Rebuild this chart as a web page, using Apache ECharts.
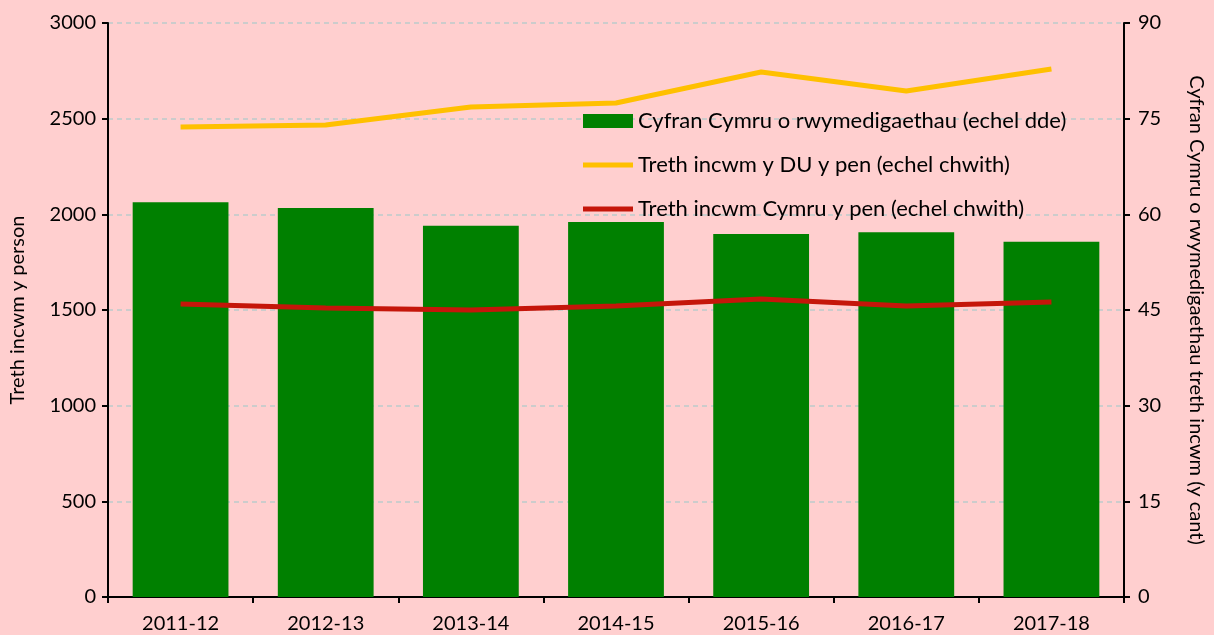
<!DOCTYPE html>
<html>
<head>
<meta charset="utf-8">
<script src="https://cdn.jsdelivr.net/npm/echarts@6/dist/echarts.min.js"></script>
<style>
  html, body { margin: 0; padding: 0; background: #ffcfcf; }
  #chart { width: 1214px; height: 635px; }
</style>
</head>
<body>
<div id="chart"></div>
<script>
// blynyddoedd
const years = ['2011-12', '2012-13', '2013-14', '2014-15', '2015-16', '2016-17', '2017-18']
// Cyfran Cymru o rwymedigaethau (y cant, echel dde)
const walesShare = [61.9, 61.0, 58.2, 58.8, 56.9, 57.2, 55.7]
// Treth incwm y DU y pen
const ukPerHead = [2456, 2467, 2561, 2582, 2744, 2645, 2760]
// Treth incwm Cymru y pen
const walesPerHead = [1531, 1510, 1500, 1521, 1557, 1521, 1542]

const font = 'Lato'
const txt = '#000'
const lineIcon = 'path://M0,0L52,0L52,5L0,5Z'

const chart = echarts.init(document.getElementById('chart'))
chart.setOption({
  backgroundColor: '#ffcfcf',
  textStyle: { fontFamily: font },
  animation: false,
  grid: { left: 103, right: 85, top: 23, bottom: 38 },
  legend: {
    orient: 'vertical',
    left: 578,
    top: 105,
    itemWidth: 50,
    itemHeight: 14,
    itemGap: 22,
    textStyle: { fontFamily: font, fontSize: 22, color: txt },
    data: [
      { name: 'Cyfran Cymru o rwymedigaethau (echel dde)', icon: 'rect' },
      { name: 'Treth incwm y DU y pen (echel chwith)', icon: lineIcon },
      { name: 'Treth incwm Cymru y pen (echel chwith)', icon: lineIcon }
    ]
  },
  xAxis: {
    type: 'category',
    data: years,
    axisLine: { lineStyle: { color: '#000', width: 2 } },
    axisTick: { show: true, length: 6, lineStyle: { color: '#000', width: 2 } },
    axisLabel: { fontFamily: font, fontSize: 20, color: txt, margin: 17 }
  },
  yAxis: [
    {
      type: 'value',
      min: 0, max: 3000, interval: 500,
      name: 'Treth incwm y person',
      nameLocation: 'middle',
      nameGap: 80,
      nameTextStyle: { fontFamily: font, fontSize: 20, color: txt },
      axisLine: { show: true, lineStyle: { color: '#000', width: 2 } },
      axisTick: { show: true, length: 6, lineStyle: { color: '#000', width: 2 } },
      axisLabel: { fontFamily: font, fontSize: 20, color: txt, margin: 12, formatter: v => String(v) },
      splitLine: { lineStyle: { color: '#cccccc', type: [5, 4], width: 2 } }
    },
    {
      type: 'value',
      min: 0, max: 90, interval: 15,
      position: 'right',
      name: 'Cyfran Cymru o rwymedigaethau treth incwm (y cant)',
      nameLocation: 'middle',
      nameRotate: -90,
      nameGap: 62,
      nameTextStyle: { fontFamily: font, fontSize: 20, color: txt },
      axisLine: { show: true, lineStyle: { color: '#000', width: 2 } },
      axisTick: { show: true, length: 6, lineStyle: { color: '#000', width: 2 } },
      axisLabel: { fontFamily: font, fontSize: 20, color: txt, margin: 14 },
      splitLine: { show: false }
    }
  ],
  series: [
    {
      name: 'Cyfran Cymru o rwymedigaethau (echel dde)',
      type: 'bar',
      yAxisIndex: 1,
      data: walesShare,
      barWidth: '66%',
      itemStyle: { color: '#008000' }
    },
    {
      name: 'Treth incwm y DU y pen (echel chwith)',
      type: 'line',
      yAxisIndex: 0,
      data: ukPerHead,
      symbol: 'none',
      lineStyle: { color: '#ffc000', width: 5 },
      itemStyle: { color: '#ffc000' }
    },
    {
      name: 'Treth incwm Cymru y pen (echel chwith)',
      type: 'line',
      yAxisIndex: 0,
      data: walesPerHead,
      symbol: 'none',
      lineStyle: { color: '#c5160a', width: 5 },
      itemStyle: { color: '#c5160a' }
    }
  ]
})
</script>
</body>
</html>
